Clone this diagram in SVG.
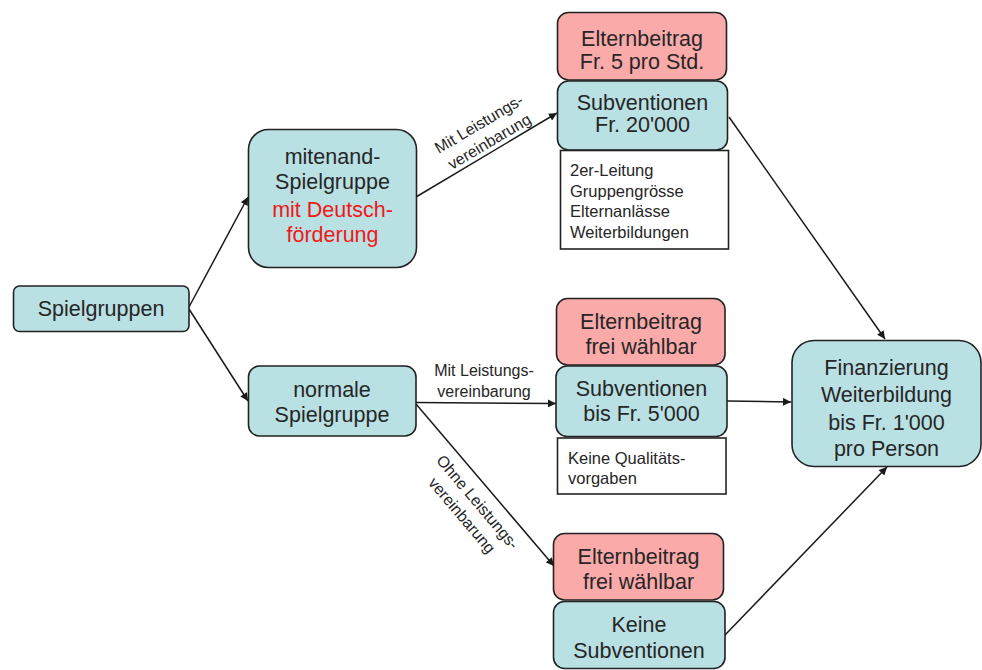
<svg xmlns="http://www.w3.org/2000/svg" width="982" height="670" viewBox="0 0 982 670">
<defs>
<marker id="ah" viewBox="0 0 10 10" refX="10" refY="5" markerWidth="9" markerHeight="8" markerUnits="userSpaceOnUse" orient="auto">
<path d="M0,0 L10,5 L0,10 z" fill="#1a1a1a"/>
</marker>
<style>
.b{fill:#b9e0e3;stroke:#222;stroke-width:1.6}
.p{fill:#fbaaaa;stroke:#222;stroke-width:1.6}
.w{fill:#fff;stroke:#222;stroke-width:1.6}
.t{font-family:"Liberation Sans",Arial,sans-serif;font-size:21.5px;fill:#262626;text-anchor:middle}
.r{fill:#f01818}
.s{font-family:"Liberation Sans",Arial,sans-serif;font-size:16.5px;fill:#262626}
.l{font-family:"Liberation Sans",Arial,sans-serif;font-size:16px;fill:#262626;text-anchor:middle}
.c{fill:none;stroke:#1a1a1a;stroke-width:1.5;marker-end:url(#ah)}
</style>
</defs>
<rect width="982" height="670" fill="#fff"/>
<g id="connectors">
<line class="c" x1="189" y1="307" x2="248" y2="197"/>
<line class="c" x1="189" y1="309" x2="248" y2="401"/>
<line class="c" x1="416" y1="197" x2="557" y2="113"/>
<line class="c" x1="416" y1="402.5" x2="556" y2="403.5"/>
<line class="c" x1="416" y1="404" x2="554" y2="566"/>
<line class="c" x1="729" y1="117" x2="885" y2="339"/>
<line class="c" x1="727" y1="401" x2="791" y2="402"/>
<line class="c" x1="725" y1="635" x2="887" y2="467"/>
<g transform="translate(484,132.5) rotate(-30.6)">
<text class="l" x="0" y="-4.5">Mit Leistungs-</text>
<text class="l" x="0" y="16">vereinbarung</text>
</g>
<text class="l" x="484" y="376">Mit Leistungs-</text>
<text class="l" x="484" y="396.5">vereinbarung</text>
<g transform="translate(470,508.5) rotate(49.7)">
<text class="l" x="0" y="-4.5">Ohne Leistungs-</text>
<text class="l" x="0" y="16">vereinbarung</text>
</g>
</g>
<g id="spielgruppen">
<rect class="b" x="13.5" y="286" width="175.5" height="45.5" rx="6"/>
<text class="t" x="101" y="316">Spielgruppen</text>
</g>
<g id="mitenand">
<rect class="b" x="248.5" y="129.5" width="168" height="138" rx="20"/>
<text class="t" x="332.5" y="164">mitenand-</text>
<text class="t" x="332.5" y="189">Spielgruppe</text>
<text class="t r" x="332.5" y="216.5">mit Deutsch-</text>
<text class="t r" x="332.5" y="241.5">förderung</text>
</g>
<g id="normale">
<rect class="b" x="248.5" y="366" width="167.5" height="70" rx="11"/>
<text class="t" x="332" y="396.5">normale</text>
<text class="t" x="332" y="421.5">Spielgruppe</text>
</g>
<g id="eltern1">
<rect class="p" x="557.5" y="12.5" width="169" height="67.5" rx="11"/>
<text class="t" x="642" y="46">Elternbeitrag</text>
<text class="t" x="642" y="68.5">Fr. 5 pro Std.</text>
</g>
<g id="subv1">
<rect class="b" x="557.5" y="81" width="170" height="69" rx="11"/>
<text class="t" x="642.5" y="110">Subventionen</text>
<text class="t" x="642.5" y="132">Fr. 20'000</text>
</g>
<g id="info1">
<rect class="w" x="560.5" y="150.5" width="168" height="98.5"/>
<text class="s" x="570" y="176">2er-Leitung</text>
<text class="s" x="570" y="196.5">Gruppengrösse</text>
<text class="s" x="570" y="217">Elternanlässe</text>
<text class="s" x="570" y="237.5">Weiterbildungen</text>
</g>
<g id="eltern2">
<rect class="p" x="556.5" y="298.5" width="168.5" height="66.5" rx="11"/>
<text class="t" x="641" y="328.5">Elternbeitrag</text>
<text class="t" x="641" y="353.5">frei wählbar</text>
</g>
<g id="subv2">
<rect class="b" x="556" y="366" width="171" height="70.5" rx="11"/>
<text class="t" x="641.5" y="396">Subventionen</text>
<text class="t" x="641.5" y="420.5">bis Fr. 5'000</text>
</g>
<g id="info2">
<rect class="w" x="557.5" y="438" width="168.5" height="56"/>
<text class="s" x="568" y="463.5">Keine Qualitäts-</text>
<text class="s" x="568" y="484">vorgaben</text>
</g>
<g id="eltern3">
<rect class="p" x="553.5" y="533.5" width="170" height="66.5" rx="11"/>
<text class="t" x="638.5" y="563.5">Elternbeitrag</text>
<text class="t" x="638.5" y="588.5">frei wählbar</text>
</g>
<g id="keinesubv">
<rect class="b" x="553.5" y="601.5" width="171.5" height="67" rx="11"/>
<text class="t" x="639" y="632">Keine</text>
<text class="t" x="639" y="657.5">Subventionen</text>
</g>
<g id="finanzierung">
<rect class="b" x="792" y="340.5" width="189" height="126" rx="22"/>
<text class="t" x="886.5" y="374.5">Finanzierung</text>
<text class="t" x="886.5" y="402">Weiterbildung</text>
<text class="t" x="886.5" y="429.5">bis Fr. 1'000</text>
<text class="t" x="886.5" y="456">pro Person</text>
</g>
</svg>
